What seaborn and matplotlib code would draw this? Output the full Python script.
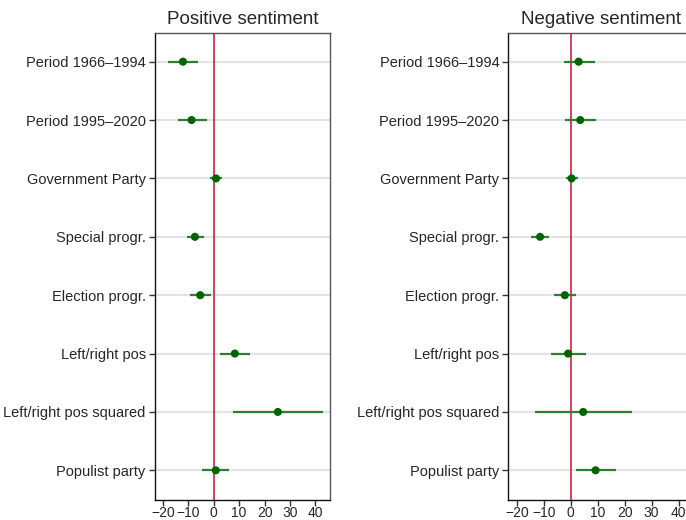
import numpy as np
import pandas as pd
import seaborn as sns
import matplotlib.pyplot as plt

# coefficient labels (top to bottom)
labels = ["Period 1966–1994", "Period 1995–2020", "Government Party", "Special progr.",
          "Election progr.", "Left/right pos", "Left/right pos squared", "Populist party"]

# positive sentiment: point estimate and confidence interval
pos_est = [-12.1, -8.7, 0.9, -7.4, -5.3, 8.3, 25.2, 0.8]
pos_lo = [-17.8, -14.2, -1.3, -10.7, -9.5, 2.3, 7.7, -4.6]
pos_hi = [-6.2, -2.6, 3.3, -3.8, -0.9, 14.2, 42.8, 6.1]

# negative sentiment
neg_est = [2.9, 3.5, 0.3, -11.4, -2.2, -1.0, 4.6, 9.2]
neg_lo = [-2.7, -2.2, -1.7, -14.6, -6.3, -7.3, -13.4, 1.9]
neg_hi = [8.8, 9.2, 2.6, -8.0, 2.0, 5.5, 22.7, 16.9]

titles = ["Positive sentiment", "Negative sentiment"]
xticks = [-20, -10, 0, 10, 20, 30, 40]

sns.set_style("white")
plt.rcParams['font.family'] = ['Liberation Sans', 'DejaVu Sans']

fig = plt.figure(figsize=(6.86, 5.2), dpi=100)
W, H = 686, 520
ax1 = fig.add_axes([154.7 / W, 20.5 / H, 175.3 / W, 467 / H])
ax2 = fig.add_axes([508.3 / W, 20.5 / H, 185.6 / W, 467 / H])

panels = [(ax1, pos_est, pos_lo, pos_hi), (ax2, neg_est, neg_lo, neg_hi)]

for (ax, est, lo, hi), title in zip(panels, titles):
    df = pd.DataFrame({"label": labels, "est": est, "lo": lo, "hi": hi})
    df["pos"] = np.arange(len(df))

    # light horizontal guide lines at each coefficient
    for p in df["pos"]:
        ax.axhline(p, color="#e3e3e3", lw=1.5, zorder=0)
    ax.axvline(0, color="#c8102e", lw=1.1, zorder=1)

    ax.hlines(df["pos"], df["lo"], df["hi"], color="#2e7d32", lw=1.6, zorder=2)
    sns.scatterplot(data=df, x="est", y="pos", ax=ax, color="#006400", s=34,
                    edgecolor="none", zorder=3, legend=False)

    ax.set_ylim(len(df) - 0.5, -0.5)
    ax.set_xlim(-23.2, 45.7)
    ax.set_yticks(df["pos"])
    ax.set_yticklabels(df["label"])
    ax.set_xticks(xticks)
    ax.set_xlabel("")
    ax.set_ylabel("")
    ax.set_title(title, fontsize=13.5, pad=6)
    ax.tick_params(axis="y", direction="out", length=4.5, width=1, color="#333333",
                   labelsize=10.5, left=True, pad=2)
    ax.tick_params(axis="x", direction="out", length=4.5, width=1, color="#333333",
                   labelsize=10, bottom=True, pad=0.5)

    for side in ["left", "bottom"]:
        ax.spines[side].set_color("#111111")
    for side in ["top", "right"]:
        ax.spines[side].set_color("#555555")
    for sp in ax.spines.values():
        sp.set_linewidth(1.0)

fig.savefig("out.png", dpi=100)
